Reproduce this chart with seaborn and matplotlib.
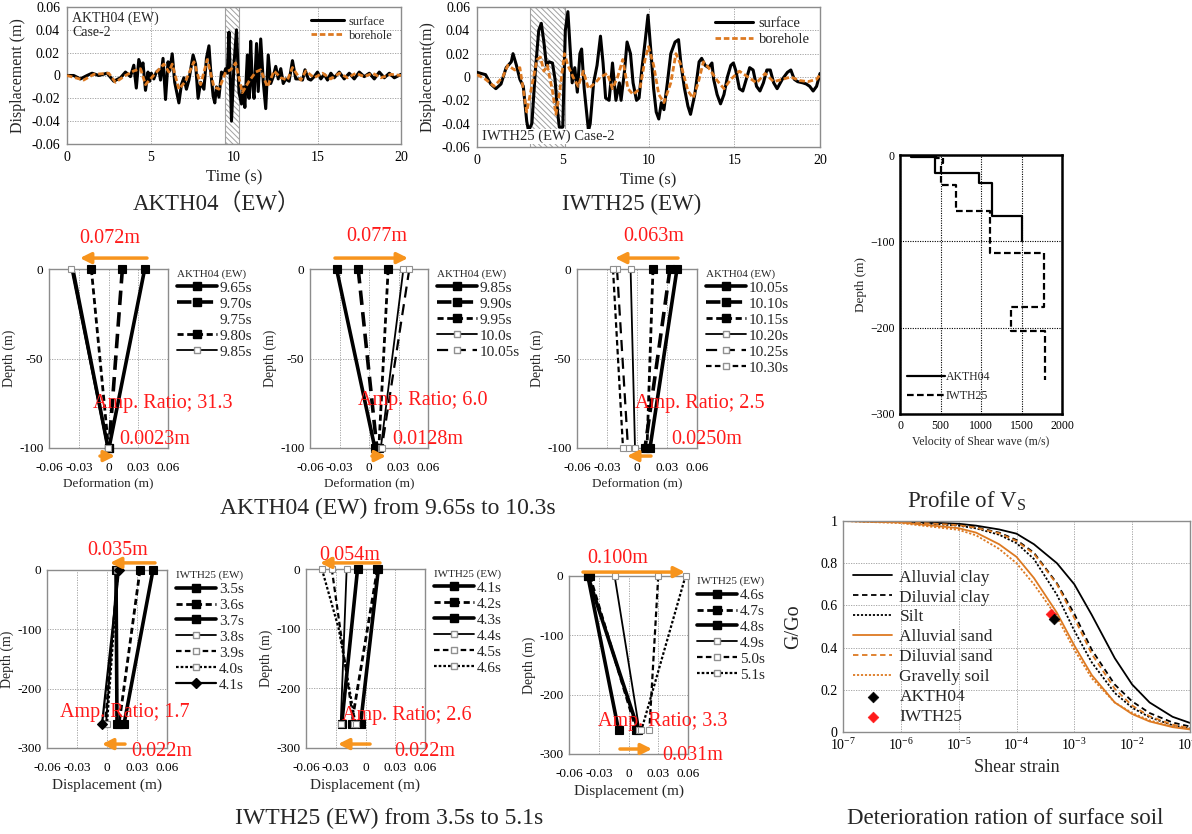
import numpy as np
import pandas as pd
import matplotlib
matplotlib.use("Agg")
import matplotlib.pyplot as plt
import seaborn as sns
from matplotlib.lines import Line2D
from matplotlib.ticker import FixedLocator, FormatStrFormatter, LogLocator, NullLocator

# --- DATA ---
# time histories (s, m)
AK_SURF_T = [0.0, 0.4, 0.8, 1.2, 1.5, 1.9, 2.4, 2.8, 3.2, 3.5, 3.8, 4.0, 4.15, 4.3, 4.45, 4.55, 4.7, 4.85,
             4.95, 5.05, 5.2, 5.35, 5.5, 5.6, 5.75, 5.9, 6.05, 6.15, 6.3, 6.45, 6.7, 6.85, 7.0, 7.15, 7.3,
             7.55, 7.7, 7.85, 8.0, 8.2, 8.35, 8.5, 8.6, 8.75, 8.85, 8.95, 9.1, 9.25, 9.4, 9.5, 9.6, 9.7,
             9.85, 10.0, 10.15, 10.3, 10.45, 10.55, 10.65, 10.8, 10.9, 11.0, 11.1, 11.2, 11.35, 11.45,
             11.6, 11.75, 11.9, 12.05, 12.2, 12.35, 12.5, 12.65, 12.8, 12.95, 13.1, 13.3, 13.5, 13.7,
             13.9, 14.1, 14.25, 14.45, 14.6, 14.8, 15.0, 15.2, 15.4, 15.6, 15.8, 16.0, 16.3, 16.6, 16.9,
             17.2, 17.5, 17.8, 18.1, 18.4, 18.7, 19.0, 19.3, 19.6, 20.0]
AK_SURF_V = [0.000, 0.000, -0.003, 0.000, 0.002, 0.000, 0.002, -0.005, -0.002, 0.003, -0.001, 0.009,
             -0.011, 0.014, 0.007, 0.011, -0.013, 0.003, -0.005, 0.002, -0.003, 0.003, 0.005, -0.004,
             0.015, -0.021, 0.012, 0.004, 0.019, -0.006, -0.024, -0.008, -0.002, -0.012, -0.004, 0.018,
             0.010, -0.020, -0.006, -0.012, 0.015, 0.026, 0.005, -0.018, -0.024, -0.010, -0.019, 0.003,
             0.001, 0.006, 0.002, 0.038, -0.040, 0.010, 0.040, -0.015, -0.025, -0.010, -0.028, 0.018,
             -0.020, 0.030, -0.008, -0.020, 0.028, -0.014, 0.032, -0.005, -0.029, 0.018, -0.007, -0.001,
             0.008, -0.003, 0.006, -0.007, -0.003, -0.005, 0.013, -0.003, -0.003, -0.004, 0.005, -0.003,
             -0.004, -0.001, 0.003, -0.003, 0.001, -0.004, 0.002, -0.002, 0.003, -0.003, 0.002, -0.003,
             0.003, -0.001, 0.002, -0.003, 0.003, -0.002, 0.002, -0.002, 0.001]
AK_BORE_T = [0.0, 1.0, 1.6, 2.5, 2.9, 3.5, 4.0, 4.4, 4.7, 5.0, 5.3, 5.8, 6.1, 6.3, 6.7, 7.1, 7.6, 8.0,
             8.4, 8.8, 9.1, 9.5, 9.8, 10.1, 10.5, 10.9, 11.3, 11.6, 12.0, 12.4, 12.8, 13.2, 13.5, 14.0,
             14.3, 14.8, 15.3, 15.8, 16.3, 16.8, 17.3, 17.8, 18.3, 18.8, 19.4, 20.0]
AK_BORE_V = [0.000, -0.004, 0.001, 0.002, -0.006, 0.000, 0.004, 0.006, -0.008, -0.003, 0.002, 0.010,
             0.003, 0.010, -0.012, -0.005, 0.012, -0.008, 0.014, -0.010, -0.012, 0.003, 0.005, 0.011,
             -0.015, -0.005, 0.003, 0.005, -0.010, 0.004, -0.002, -0.004, 0.007, -0.004, 0.004, -0.002,
             0.002, -0.003, 0.002, -0.002, 0.002, -0.001, 0.002, -0.002, 0.001, 0.000]
IW_SURF_T = [0.0, 0.5, 0.8, 1.1, 1.4, 1.7, 2.0, 2.1, 2.3, 2.5, 2.7, 2.9, 3.0, 3.2, 3.4, 3.6, 3.75, 3.9,
             4.05, 4.2, 4.4, 4.55, 4.7, 4.8, 5.0, 5.15, 5.3, 5.45, 5.55, 5.7, 5.85, 6.0, 6.1, 6.25, 6.5,
             6.6, 6.8, 7.0, 7.2, 7.35, 7.5, 7.7, 7.8, 7.9, 8.1, 8.3, 8.4, 8.6, 8.75, 8.95, 9.1, 9.3, 9.45,
             9.6, 9.8, 9.97, 10.15, 10.3, 10.45, 10.6, 10.75, 10.9, 11.1, 11.3, 11.55, 11.75, 11.9, 12.1,
             12.3, 12.45, 12.7, 12.95, 13.1, 13.3, 13.5, 13.7, 13.8, 14.0, 14.2, 14.4, 14.6, 14.8, 14.95,
             15.1, 15.3, 15.5, 15.7, 15.9, 16.1, 16.3, 16.5, 16.7, 16.9, 17.1, 17.3, 17.5, 17.8, 18.1,
             18.3, 18.5, 18.7, 19.0, 19.2, 19.4, 19.6, 19.8, 20.0]
IW_SURF_V = [0.004, 0.002, -0.006, -0.010, -0.006, 0.008, 0.013, 0.020, 0.010, -0.002, -0.008, -0.038,
             -0.046, -0.040, 0.005, 0.040, 0.046, 0.030, 0.010, 0.013, 0.012, -0.002, -0.030, -0.043,
             -0.043, 0.040, 0.056, 0.020, -0.005, 0.008, -0.013, 0.020, 0.024, -0.010, -0.046, -0.040,
             -0.005, 0.010, 0.035, 0.012, -0.018, -0.020, -0.005, 0.012, -0.020, -0.005, -0.020, 0.005,
             0.030, 0.020, -0.005, -0.020, -0.018, 0.005, 0.030, 0.053, 0.020, -0.010, -0.030, -0.036,
             -0.022, -0.028, -0.005, 0.020, 0.030, 0.032, 0.010, -0.010, -0.025, -0.032, -0.015, 0.013,
             0.016, 0.010, 0.008, 0.012, -0.002, -0.015, -0.023, -0.015, 0.000, 0.010, 0.012, 0.005,
             -0.010, -0.012, -0.002, 0.008, 0.006, -0.008, -0.012, -0.005, 0.006, 0.006, -0.005, -0.010,
             -0.002, 0.004, 0.006, -0.002, -0.004, -0.005, -0.006, -0.008, -0.012, -0.008, 0.003]
IW_BORE_T = [0.0, 0.5, 1.0, 1.5, 1.8, 2.2, 2.5, 2.9, 3.1, 3.5, 3.7, 3.9, 4.1, 4.4, 4.6, 4.8, 5.1, 5.3,
             5.6, 5.9, 6.2, 6.5, 6.9, 7.2, 7.6, 7.9, 8.2, 8.5, 8.8, 9.1, 9.5, 9.8, 10.0, 10.3, 10.6, 10.9,
             11.3, 11.6, 11.9, 12.3, 12.6, 12.9, 13.2, 13.5, 14.0, 14.4, 14.8, 15.3, 15.8, 16.3, 16.8,
             17.3, 17.8, 18.3, 18.8, 19.3, 19.8, 20.0]
IW_BORE_V = [0.002, -0.002, -0.008, 0.000, 0.010, 0.006, 0.008, -0.030, -0.015, 0.015, 0.017, 0.005,
             0.010, -0.012, -0.032, -0.015, 0.020, 0.010, 0.000, -0.008, 0.005, -0.010, -0.005, 0.000,
             0.003, -0.010, 0.000, 0.015, -0.010, -0.015, -0.010, 0.015, 0.026, 0.010, -0.015, -0.022,
             -0.005, 0.020, 0.010, -0.012, -0.018, -0.005, 0.013, 0.008, -0.003, -0.010, -0.002, 0.005,
             0.000, -0.005, 0.003, -0.004, -0.002, 0.000, -0.003, -0.004, -0.002, 0.002]
AK_WINDOW = (9.45, 10.3)
IW_WINDOW = (3.1, 5.15)
TS_TIME_TICKS = [0, 5, 10, 15, 20]
TS_DISP_TICKS = [-0.06, -0.04, -0.02, 0, 0.02, 0.04, 0.06]

# deformation profiles: value at surface / value at borehole bottom (m)
AK_DEPTH = [0, -100]
AK1_LABELS = ['9.65s', '9.70s', '9.75s', '9.80s', '9.85s']
AK1_X = [[0.0365, 0.0005], [0.014, 0.0005], [-0.036, -0.0005], [-0.0173, 0.0], [-0.0375, -0.001]]
AK2_LABELS = ['9.85s', '9.90s', '9.95s', '10.0s', '10.05s']
AK2_X = [[-0.033, 0.006], [-0.011, 0.008], [0.0195, 0.010], [0.035, 0.012], [0.041, 0.013]]
AK3_LABELS = ['10.05s', '10.10s', '10.15s', '10.20s', '10.25s', '10.30s']
AK3_X = [[0.040, 0.013], [0.033, 0.008], [0.016, 0.010], [-0.0064, -0.002], [-0.020, -0.009],
         [-0.024, -0.014]]
IW_DEPTH = [0, -260]
IW1_LABELS = ['3.5s', '3.6s', '3.7s', '3.8s', '3.9s', '4.0s', '4.1s']
IW1_X = [[0.046, 0.017], [0.033, 0.012], [0.009, 0.010], [0.010, -0.001], [0.011, -0.002],
         [0.011, 0.000], [0.012, -0.005]]
IW2_LABELS = ['4.1s', '4.2s', '4.3s', '4.4s', '4.5s', '4.6s']
IW2_X = [[0.013, -0.005], [0.012, -0.014], [-0.008, -0.024], [-0.019, -0.025], [-0.034, -0.012],
         [-0.044, -0.027, -0.010]]
IW2_CURVE_DEPTH = [0, -100, -260]
IW3_LABELS = ['4.6s', '4.7s', '4.8s', '4.9s', '5.0s', '5.1s']
IW3_X = [[-0.041, -0.010], [-0.039, 0.008], [-0.041, 0.010], [-0.014, 0.011], [0.030, 0.021],
         [0.0575, 0.013]]
PROFILE_X_TICKS = [-0.06, -0.03, 0, 0.03, 0.06]

# Vs profiles: layer velocity (m/s) and layer boundaries (m)
AK_VS = [140, 430, 980, 1140, 1500]
AK_VS_BOUNDS = [0, -2, -21, -33, -71, -100]
IW_VS = [440, 530, 510, 690, 1110, 1775, 1365, 1795]
IW_VS_BOUNDS = [0, -3, -9, -35, -65, -113, -176, -204, -261]

# G/Go curves
STRAIN = [1e-7, 1e-6, 1e-5, 2e-5, 5e-5, 1e-4, 2e-4, 5e-4, 1e-3, 2e-3, 5e-3, 1e-2, 2e-2, 5e-2, 1e-1]
GG_ALLUVIAL_CLAY = [1.0, 0.998, 0.987, 0.978, 0.960, 0.940, 0.890, 0.800, 0.700, 0.555, 0.350, 0.225, 0.140, 0.072, 0.043]
GG_DILUVIAL_CLAY = [1.0, 0.997, 0.982, 0.970, 0.945, 0.910, 0.850, 0.705, 0.560, 0.390, 0.225, 0.145, 0.090, 0.045, 0.026]
GG_SILT = [1.0, 0.996, 0.978, 0.965, 0.935, 0.895, 0.820, 0.650, 0.480, 0.330, 0.185, 0.115, 0.070, 0.032, 0.017]
GG_ALLUVIAL_SAND = [1.0, 0.993, 0.966, 0.945, 0.890, 0.830, 0.730, 0.565, 0.410, 0.270, 0.140, 0.085, 0.050, 0.023, 0.012]
GG_DILUVIAL_SAND = [1.0, 0.997, 0.980, 0.968, 0.942, 0.905, 0.845, 0.700, 0.540, 0.370, 0.205, 0.125, 0.075, 0.035, 0.018]
GG_GRAVELLY = [1.0, 0.990, 0.958, 0.932, 0.868, 0.800, 0.700, 0.545, 0.390, 0.255, 0.140, 0.090, 0.055, 0.027, 0.015]
SITE_NAMES = ['AKTH04', 'IWTH25']
SITE_STRAIN = [4.5e-4, 4.0e-4]
SITE_GG = [0.535, 0.56]

# --- STYLE ---
sns.set_theme(style="white")
plt.rcParams['font.family'] = ['Liberation Serif', 'DejaVu Serif']
plt.rcParams['mathtext.fontset'] = 'stix'
plt.rcParams['hatch.color'] = '#a0a0a0'
plt.rcParams['hatch.linewidth'] = 0.7

ORANGE = '#dd7a22'
ARROW = '#f7941d'
RED = '#ff1a1a'
GRIDC = '#9a9a9a'

W, H = 1192, 834
fig = plt.figure(figsize=(W / 100, H / 100), dpi=100)


def px_axes(l, t, r, b):
    return fig.add_axes([l / W, 1 - b / H, (r - l) / W, (b - t) / H])


def caption(x, y, s, size=16.5, **kw):
    fig.text(x / W, 1 - y / H, s, ha='center', va='center', fontsize=size, **kw)


def frame(ax, color='#8c8c8c', lw=1.0):
    for sp in ax.spines.values():
        sp.set_color(color)
        sp.set_linewidth(lw)
    ax.tick_params(length=0, pad=4, labelsize=9.5, colors='black')


def grid(ax, color=GRIDC, lw=0.6):
    ax.grid(True, linestyle=(0, (1.5, 1.5)), color=color, lw=lw)


# --- time histories ---
def draw_ts(ax, ts, vs, tb, vb, window, legsize):
    ax.axvspan(*window, facecolor='white', edgecolor='#a0a0a0', hatch='\\\\\\\\\\\\', lw=0.8, zorder=1)
    sns.lineplot(x=ts, y=vs, ax=ax, color='black', lw=2.2, sort=False, estimator=None,
                 label='surface', zorder=3)
    sns.lineplot(x=tb, y=vb, ax=ax, color=ORANGE, lw=2.0, linestyle=(0, (2, 1)), sort=False,
                 estimator=None, label='borehole', zorder=4)
    ax.set_xlim(0, 20)
    ax.set_ylim(-0.06, 0.06)
    ax.xaxis.set_major_locator(FixedLocator(TS_TIME_TICKS))
    ax.yaxis.set_major_locator(FixedLocator(TS_DISP_TICKS))
    ax.yaxis.set_major_formatter(FormatStrFormatter('%g'))
    ax.xaxis.set_major_formatter(FormatStrFormatter('%g'))
    frame(ax)
    ax.tick_params(labelsize=10, pad=5)
    grid(ax)
    ax.set_axisbelow(True)
    ax.set_xlabel('Time (s)', fontsize=12, labelpad=4)
    ax.legend(loc='upper right', frameon=False, fontsize=legsize, handlelength=2.6,
              labelspacing=0.15, borderaxespad=0.3, handletextpad=0.4)


ax1 = px_axes(67, 7, 401, 144)
draw_ts(ax1, AK_SURF_T, AK_SURF_V, AK_BORE_T, AK_BORE_V, AK_WINDOW, 9)
ax1.set_ylabel('Displacement (m)', fontsize=11.5, labelpad=4)
ax1.text(0.015, 0.97, 'AKTH04 (EW)\nCase-2', transform=ax1.transAxes, va='top', ha='left',
         fontsize=10, linespacing=1.1)

ax2 = px_axes(477, 7, 820, 147)
draw_ts(ax2, IW_SURF_T, IW_SURF_V, IW_BORE_T, IW_BORE_V, IW_WINDOW, 10.5)
ax2.set_ylabel('Displacement(m)', fontsize=11.5, labelpad=4)
ax2.text(0.015, 0.03, 'IWTH25 (EW) Case-2', transform=ax2.transAxes, va='bottom', ha='left',
         fontsize=10.5, bbox=dict(facecolor='white', edgecolor='none', pad=0.5), zorder=6)

caption(217, 204, 'AKTH04（EW）', family=['Liberation Serif', 'Noto Sans CJK JP'])
caption(632, 204, 'IWTH25 (EW)')

# --- deformation profiles ---
STYLES = {
    'thick_f': dict(color='black', lw=2.6, ls='-', marker='s', ms=6, mfc='black', mec='black'),
    'long_f': dict(color='black', lw=2.6, ls=(0, (4, 2)), marker='s', ms=6, mfc='black', mec='black'),
    'dash_f': dict(color='black', lw=2.0, ls=(0, (2.2, 1.3)), marker='s', ms=6, mfc='black', mec='black'),
    'thin_o': dict(color='black', lw=1.3, ls='-', marker='s', ms=5, mfc='white', mec='#909090'),
    'long_o': dict(color='black', lw=1.6, ls=(0, (5, 3)), marker='s', ms=5, mfc='white', mec='#909090'),
    'dash_o': dict(color='black', lw=1.6, ls=(0, (2.5, 1.5)), marker='s', ms=5, mfc='white', mec='#909090'),
    'dot_o': dict(color='black', lw=1.6, ls=(0, (1.2, 0.9)), marker='s', ms=5, mfc='white', mec='#909090'),
    'thick_n': dict(color='black', lw=2.6, ls='-', marker=None),
    'diam_f': dict(color='black', lw=1.6, ls='-', marker='D', ms=5, mfc='black', mec='black'),
}
AK1_ST = ['thick_f', 'long_f', 'thick_n', 'dash_f', 'thin_o']
AK2_ST = ['thick_f', 'long_f', 'dash_f', 'thin_o', 'long_o']
AK3_ST = ['thick_f', 'long_f', 'dash_f', 'thin_o', 'long_o', 'dash_o']
IW1_ST = ['thick_f', 'dash_f', 'thick_f', 'thin_o', 'dash_o', 'dot_o', 'diam_f']
IW2_ST = ['thick_f', 'dash_f', 'thick_f', 'thin_o', 'dash_o', 'dot_o']
IW3_ST = ['thick_f', 'dash_f', 'thick_f', 'thin_o', 'dash_o', 'dot_o']


def handle(st, hide=False):
    s = STYLES[st]
    if hide:
        return Line2D([], [], ls='none')
    return Line2D([], [], color=s['color'], lw=s['lw'], ls=s['ls'], marker=s.get('marker'),
                  ms=s.get('ms', 0), mfc=s.get('mfc'), mec=s.get('mec'))


def draw_profile(ax, xs, depth, labels, styles, ymin, yticks, title, xlabel, xlsize,
                 hide=(), depth_override=None):
    for i, (xv, st) in enumerate(zip(xs, styles)):
        d = depth
        if depth_override is not None and len(xv) == len(depth_override):
            d = depth_override
        s = STYLES[st]
        kw = dict(color=s['color'], lw=s['lw'], linestyle=s['ls'])
        if s.get('marker'):
            kw.update(marker=s['marker'], markersize=s['ms'], markerfacecolor=s['mfc'],
                      markeredgecolor=s['mec'], markeredgewidth=0.8)
            if len(xv) == 3:
                kw['markevery'] = [0, 2]
        sns.lineplot(x=xv, y=d, ax=ax, sort=False, estimator=None, legend=False, zorder=3 + i,
                     clip_on=False, **kw)
    ax.set_xlim(-0.06, 0.06)
    ax.set_ylim(ymin, 0)
    ax.xaxis.set_major_locator(FixedLocator(PROFILE_X_TICKS))
    ax.xaxis.set_major_formatter(FormatStrFormatter('%g'))
    ax.yaxis.set_major_locator(FixedLocator(yticks))
    ax.yaxis.set_major_formatter(FormatStrFormatter('%g'))
    frame(ax)
    ax.tick_params(axis='x', pad=10)
    grid(ax)
    ax.set_axisbelow(True)
    ax.set_ylabel('Depth (m)', fontsize=10, labelpad=2)
    ax.set_xlabel(xlabel, fontsize=xlsize, labelpad=3)
    hs = [handle(st, i in hide) for i, st in enumerate(styles)]
    leg = ax.legend(hs, labels, loc='upper left', bbox_to_anchor=(1.0, 1.05), frameon=False,
                    fontsize=11, title=title, title_fontsize=8, handlelength=2.6,
                    labelspacing=0.15, handletextpad=0.2, borderaxespad=0.2, alignment='left')
    return leg


def note(ax, fx, fy, s, ha='center'):
    ax.text(fx, fy, s, transform=ax.transAxes, color=RED, fontsize=14.5, ha=ha, va='center',
            clip_on=False, zorder=20)


def arrow(ax, x0, x1, fy, lw=2.5):
    tr = ax.get_xaxis_transform()
    ax.annotate('', xy=(x1, fy), xytext=(x0, fy), xycoords=tr, textcoords=tr,
                arrowprops=dict(arrowstyle='-|>', color=ARROW, lw=lw, mutation_scale=16,
                                shrinkA=0, shrinkB=0), annotation_clip=False, zorder=20)


p1 = px_axes(49, 269, 168, 448)
draw_profile(p1, AK1_X, AK_DEPTH, AK1_LABELS, AK1_ST, -100, [0, -50, -100], 'AKTH04 (EW)',
             'Deformation (m)', 9.5, hide=(2,))
note(p1, 0.51, 1.173, '0.072m')
note(p1, 0.96, 0.25, 'Amp. Ratio; 31.3')
note(p1, 0.89, 0.05, '0.0023m')
arrow(p1, 0.0388, -0.0288, 1.061)
arrow(p1, -0.0086, 0.0065, -0.045)

p2 = px_axes(310, 269, 428, 448)
draw_profile(p2, AK2_X, AK_DEPTH, AK2_LABELS, AK2_ST, -100, [0, -50, -100], 'AKTH04 (EW)',
             'Deformation (m)', 9.5)
note(p2, 0.568, 1.184, '0.077m')
note(p2, 0.958, 0.268, 'Amp. Ratio; 6.0')
note(p2, 1.0, 0.05, '0.0128m')
arrow(p2, -0.0346, 0.0397, 1.061)
arrow(p2, 0.003, 0.0173, -0.045)

p3 = px_axes(577, 269, 697, 448)
draw_profile(p3, AK3_X, AK_DEPTH, AK3_LABELS, AK3_ST, -100, [0, -50, -100], 'AKTH04 (EW)',
             'Deformation (m)', 9.5)
note(p3, 0.642, 1.184, '0.063m')
note(p3, 1.025, 0.25, 'Amp. Ratio; 2.5')
note(p3, 1.083, 0.05, '0.0250m')
arrow(p3, 0.041, -0.022, 1.061)
arrow(p3, 0.014, -0.010, -0.045)

caption(388, 508, 'AKTH04 (EW) from 9.65s to 10.3s', size=17)

p4 = px_axes(47, 570, 167, 748)
draw_profile(p4, IW1_X, IW_DEPTH, IW1_LABELS, IW1_ST, -300, [0, -100, -200, -300], 'IWTH25 (EW)',
             'Displacement (m)', 11)
note(p4, 0.59, 1.107, '0.035m')
note(p4, 0.65, 0.197, 'Amp. Ratio; 1.7')
note(p4, 0.958, -0.022, '0.022m')
arrow(p4, 0.048, 0.003, 1.04)
arrow(p4, 0.018, -0.005, 0.022)

p5 = px_axes(306, 569, 425, 748)
draw_profile(p5, IW2_X, IW_DEPTH, IW2_LABELS, IW2_ST, -300, [0, -100, -200, -300], 'IWTH25 (EW)',
             'Displacement (m)', 11, depth_override=IW2_CURVE_DEPTH)
note(p5, 0.37, 1.078, '0.054m')
note(p5, 0.85, 0.184, 'Amp. Ratio; 2.6')
note(p5, 1.0, -0.022, '0.022m')
arrow(p5, 0.0146, -0.0458, 1.034)
arrow(p5, 0.0046, -0.0277, 0.022)

p6 = px_axes(569, 576, 688, 754)
draw_profile(p6, IW3_X, IW_DEPTH, IW3_LABELS, IW3_ST, -300, [0, -100, -200, -300], 'IWTH25 (EW)',
             'Displacement (m)', 11)
note(p6, 0.41, 1.096, '0.100m')
note(p6, 0.79, 0.185, 'Amp. Ratio; 3.3')
note(p6, 1.04, -0.011, '0.031m')
arrow(p6, -0.0459, 0.057, 1.022)
arrow(p6, -0.0086, 0.0237, 0.028)

caption(389, 818, 'IWTH25 (EW) from 3.5s to 5.1s', size=17)

# --- Vs profile ---
def steps(vs, bounds):
    xs, ys = [], []
    for i, v in enumerate(vs):
        xs += [v, v]
        ys += [bounds[i], bounds[i + 1]]
    return xs, ys


pv = px_axes(900, 155, 1062, 414)
ax_x, ax_y = steps(AK_VS, AK_VS_BOUNDS)
iw_x, iw_y = steps(IW_VS, IW_VS_BOUNDS)
sns.lineplot(x=ax_x, y=ax_y, ax=pv, sort=False, estimator=None, color='black', lw=1.6,
             label='AKTH04', zorder=4)
sns.lineplot(x=iw_x, y=iw_y, ax=pv, sort=False, estimator=None, color='black', lw=1.6,
             linestyle=(0, (3, 1.5)), label='IWTH25', zorder=3)
pv.set_xlim(0, 2000)
pv.set_ylim(-300, 0)
pv.xaxis.set_major_locator(FixedLocator([0, 500, 1000, 1500, 2000]))
pv.yaxis.set_major_locator(FixedLocator([0, -100, -200, -300]))
frame(pv, color='black', lw=1.8)
pv.tick_params(labelsize=8.5)
pv.grid(True, linestyle=(0, (1, 1.2)), color='black', lw=0.8)
pv.set_axisbelow(True)
pv.set_xlabel('Velocity of Shear wave (m/s)', fontsize=8.5, labelpad=3)
pv.set_ylabel('Depth (m)', fontsize=9.5, labelpad=2)
pv.legend(loc='lower left', bbox_to_anchor=(0.0, 0.02), frameon=False, fontsize=8.5,
          handlelength=3.2, handletextpad=0.1, labelspacing=0.6, borderaxespad=0.2)
caption(967, 500, 'Profile of V$_\\mathregular{S}$')

# --- G/Go ---
pg = px_axes(843, 521, 1190, 732)
curves = [('Alluvial clay', GG_ALLUVIAL_CLAY, 'black', '-'),
          ('Diluvial clay', GG_DILUVIAL_CLAY, 'black', (0, (3, 2))),
          ('Silt', GG_SILT, 'black', (0, (1.2, 1))),
          ('Alluvial sand', GG_ALLUVIAL_SAND, ORANGE, '-'),
          ('Diluvial sand', GG_DILUVIAL_SAND, ORANGE, (0, (3, 2))),
          ('Gravelly soil', GG_GRAVELLY, ORANGE, (0, (1.2, 1)))]
for name, vals, c, ls in curves:
    sns.lineplot(x=STRAIN, y=vals, ax=pg, color=c, linestyle=ls, lw=1.3, label=name,
                 sort=False, estimator=None)
sns.scatterplot(x=[SITE_STRAIN[0]], y=[SITE_GG[0]], ax=pg, marker='D', color='black', s=30,
                edgecolor='black', label=SITE_NAMES[0], zorder=6)
sns.scatterplot(x=[SITE_STRAIN[1]], y=[SITE_GG[1]], ax=pg, marker='D', color='#ff1a1a', s=30,
                edgecolor='#ff1a1a', label=SITE_NAMES[1], zorder=5)
pg.set_xscale('log')
pg.set_xlim(1e-7, 1e-1)
pg.set_ylim(0, 1)
pg.xaxis.set_major_locator(LogLocator(base=10, numticks=10))
pg.xaxis.set_minor_locator(NullLocator())
pg.yaxis.set_major_locator(FixedLocator([0, 0.2, 0.4, 0.6, 0.8, 1]))
pg.yaxis.set_major_formatter(FormatStrFormatter('%g'))
frame(pg)
pg.tick_params(labelsize=10)
grid(pg)
pg.set_axisbelow(True)
pg.set_xlabel('Shear strain', fontsize=13, labelpad=4)
pg.set_ylabel('G/Go', fontsize=14.5, labelpad=12)
pg.legend(loc='upper left', bbox_to_anchor=(0.0, 0.82), frameon=False, fontsize=12.5,
          handlelength=2.2, labelspacing=0.22, handletextpad=0.45, borderaxespad=0.2)
caption(1005, 818, 'Deterioration ration of surface soil', size=16.5)

fig.savefig('out.png', dpi=100)
